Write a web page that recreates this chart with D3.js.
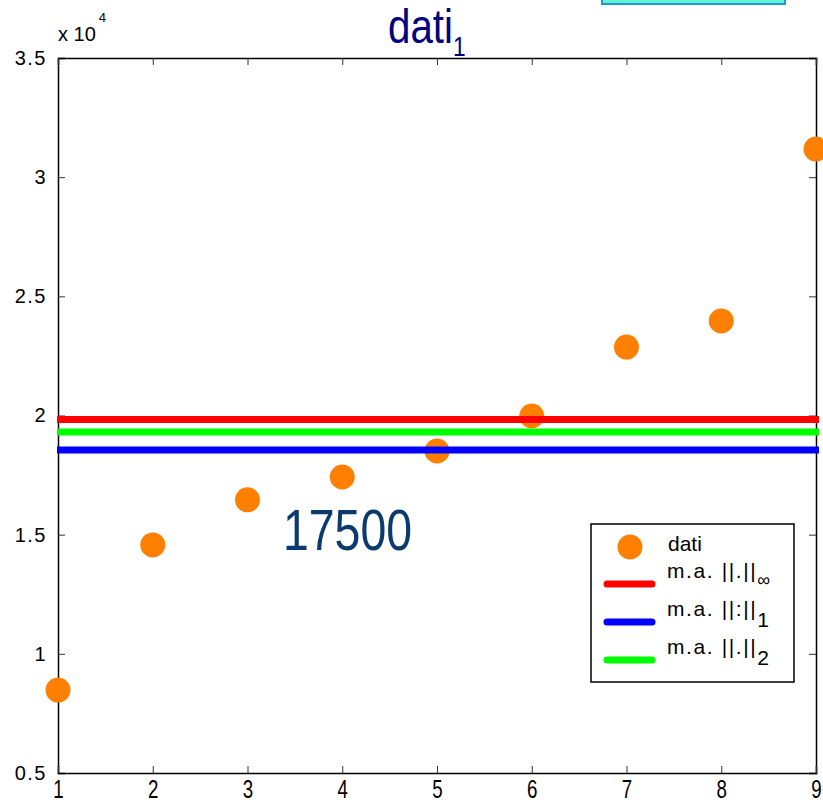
<!DOCTYPE html>
<html><head><meta charset="utf-8">
<script src="https://cdn.jsdelivr.net/npm/d3@7"></script>
<style>
html,body{margin:0;padding:0;background:#fff;}
svg{display:block;}
</style></head>
<body>
<svg id="chart" width="823" height="804"></svg>
<script>
// ---- data ----
const categories = [1, 2, 3, 4, 5, 6, 7, 8, 9];
const dati = [8480, 14570, 16460, 17420, 18510, 19980, 22870, 23970, 31180];
const lineNames = ["m.a. ||.||", "m.a. ||:||", "m.a. ||.||"];
const lineSubs = ["\u221e", "1", "2"];
const lineValues = [19830, 18550, 19310];
const lineColors = ["#ff0000", "#0000ff", "#00ff00"];
const yTicks = [0.5, 1, 1.5, 2, 2.5, 3, 3.5];
const yTickLabels = ["0.5", "1", "1.5", "2", "2.5", "3", "3.5"];
const xTicks = [1, 2, 3, 4, 5, 6, 7, 8, 9];
const annotation = "17500";

const FONT = "'Liberation Sans', Arial, sans-serif";
const svg = d3.select("#chart");
const L = 58, R = 816, T = 58, B = 773;
const x = d3.scaleLinear().domain([1, 9]).range([L, R]);
const y = d3.scaleLinear().domain([0.5, 3.5]).range([B, T]);
const yv = v => y(v / 1e4);

// cyan box at top
svg.append("rect").attr("x", 602).attr("y", -10).attr("width", 183).attr("height", 14)
  .attr("fill", "#66f2d2").attr("stroke", "#1b9bd6").attr("stroke-width", 2);

// axes frame with inward ticks
const tl = 7;
const g = svg.append("g");
const yAxisL = d3.axisLeft(y).tickValues(yTicks).tickSize(-tl).tickFormat((d,i)=>yTickLabels[i]).tickPadding(11);
const yAxisR = d3.axisRight(y).tickValues(yTicks).tickSize(-tl).tickFormat("");
const xAxisB = d3.axisBottom(x).tickValues(xTicks).tickSize(-tl).tickFormat(d3.format("d")).tickPadding(11);
const xAxisT = d3.axisTop(x).tickValues(xTicks).tickSize(-tl).tickFormat("");
const gl = g.append("g").attr("transform", `translate(${L},0)`).call(yAxisL);
const gr = g.append("g").attr("transform", `translate(${R},0)`).call(yAxisR);
const gb = g.append("g").attr("transform", `translate(0,${B})`).call(xAxisB);
const gt = g.append("g").attr("transform", `translate(0,${T})`).call(xAxisT);
[gl, gr, gb, gt].forEach(a => {
  a.select(".domain").attr("stroke", "#000").attr("stroke-width", 1.5);
  a.selectAll(".tick line").attr("stroke", "#333").attr("stroke-width", 1);
});
gl.selectAll(".tick text").attr("font-family", FONT)
  .attr("font-size", 20).attr("fill", "#000").attr("letter-spacing", 1.5);
gb.selectAll(".tick text").attr("font-family", FONT)
  .attr("font-size", 26).attr("fill", "#000").attr("dy", "0.55em")
  .attr("transform", "scale(0.72,1)");

// x 10^4
const mult = svg.append("text").attr("x", 58).attr("y", 41)
  .attr("font-family", FONT).attr("font-size", 20).attr("fill", "#000");
mult.append("tspan").text("x 10");
mult.append("tspan").attr("font-size", 13).attr("dy", -19).attr("dx", 3).text("4");

// points
svg.append("g").selectAll("circle").data(dati).join("circle")
  .attr("cx", (d, i) => x(categories[i])).attr("cy", d => yv(d)).attr("r", 12.5)
  .attr("fill", "#ff8000");

// horizontal lines
svg.append("g").selectAll("line").data(lineValues).join("line")
  .attr("x1", x(1) - 1).attr("x2", x(9) + 3)
  .attr("y1", d => yv(d)).attr("y2", d => yv(d))
  .attr("stroke", (d, i) => lineColors[i]).attr("stroke-width", 7);

// title
const title = svg.append("text").attr("transform", "translate(388,43) scale(0.84,1)")
  .attr("font-family", FONT).attr("font-size", 48).attr("fill", "#000080");
title.append("tspan").text("dati");
title.append("tspan").attr("font-size", 27).attr("dy", 13).text("1");

// annotation
svg.append("text").attr("transform", "translate(283,550) scale(0.8,1)")
  .attr("font-family", FONT).attr("font-size", 58).attr("fill", "#0a3a6e").text(annotation);

// legend
const lg = svg.append("g");
lg.append("rect").attr("x", 591).attr("y", 524).attr("width", 203).attr("height", 158)
  .attr("fill", "#fff").attr("stroke", "#000").attr("stroke-width", 1.5);
lg.append("circle").attr("cx", 630).attr("cy", 547).attr("r", 12.5).attr("fill", "#ff8000");
lg.append("text").attr("x", 668).attr("y", 551)
  .attr("font-family", FONT).attr("font-size", 21).attr("fill", "#000").text("dati");
const rowsY = [584, 622, 660];
lineValues.forEach((v, i) => {
  lg.append("line").attr("x1", 607).attr("x2", 652).attr("y1", rowsY[i]).attr("y2", rowsY[i])
    .attr("stroke", lineColors[i]).attr("stroke-width", 7).attr("stroke-linecap", "round");
  const t = lg.append("text").attr("x", 667).attr("y", rowsY[i] - 6)
    .attr("font-family", FONT).attr("font-size", 21).attr("fill", "#000")
    .attr("letter-spacing", 1.6);
  t.append("tspan").text(lineNames[i]);
  t.append("tspan").attr("font-size", i === 0 ? 18 : 21).attr("dy", i === 0 ? 8 : 11).attr("letter-spacing", 0).text(lineSubs[i]);
});
</script>
</body></html>
